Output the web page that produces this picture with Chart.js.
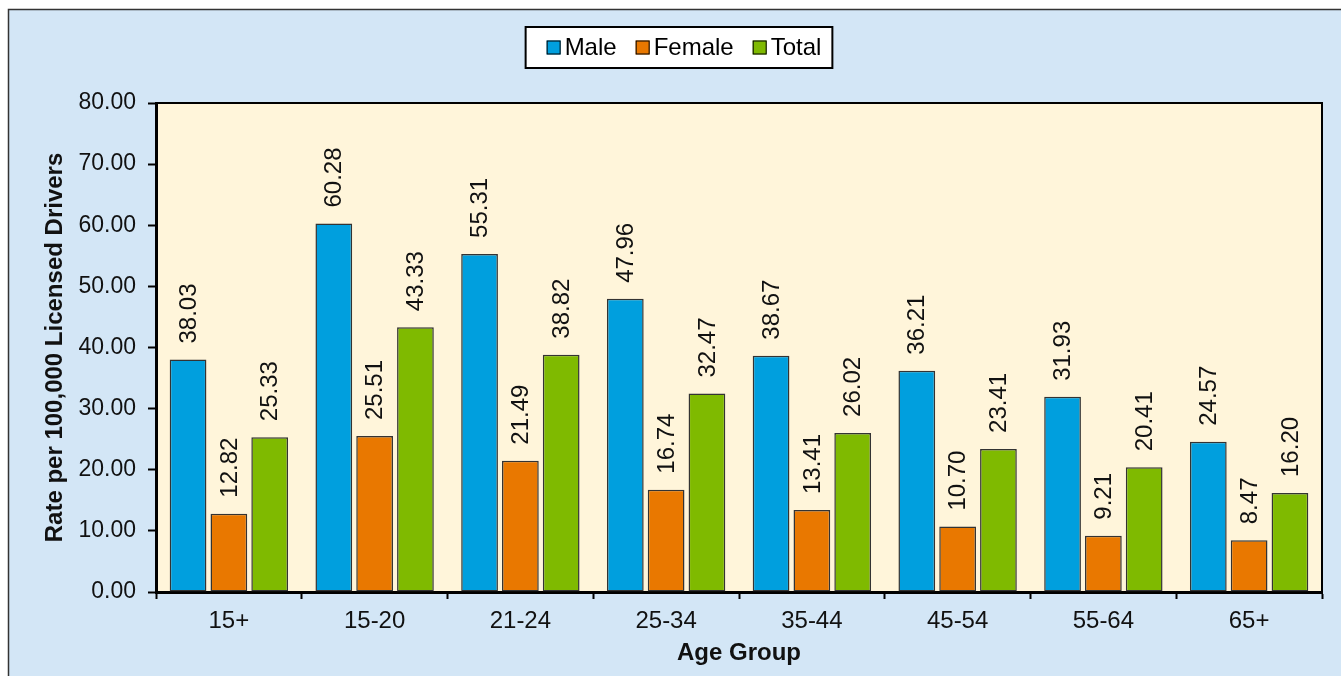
<!DOCTYPE html>
<html>
<head>
<meta charset="utf-8">
<script src="https://cdn.jsdelivr.net/npm/chart.js@4/dist/chart.umd.min.js"></script>
<style>
  html, body { margin: 0; padding: 0; background: #fff; }
  #wrap { width: 1341px; height: 676px; position: relative; }
</style>
</head>
<body>
<div id="wrap"><canvas id="myChart" width="1341" height="676"></canvas></div>
<script>
const ageGroups = ["15+", "15-20", "21-24", "25-34", "35-44", "45-54", "55-64", "65+"];
const male = [38.03, 60.28, 55.31, 47.96, 38.67, 36.21, 31.93, 24.57];
const female = [12.82, 25.51, 21.49, 16.74, 13.41, 10.70, 9.21, 8.47];
const total = [25.33, 43.33, 38.82, 32.47, 26.02, 23.41, 20.41, 16.20];

const FONT = "'Liberation Sans', Arial, sans-serif";

// panel background + plot area fill
const backdrop = {
  id: "backdrop",
  beforeDraw(chart) {
    const ctx = chart.ctx;
    const a = chart.chartArea;
    ctx.save();
    ctx.fillStyle = "#fff";
    ctx.fillRect(0, 0, chart.width, chart.height);
    ctx.fillStyle = "#D3E6F6";
    ctx.fillRect(8, 9, chart.width - 8, chart.height - 9);
    ctx.strokeStyle = "#333";
    ctx.lineWidth = 1.5;
    ctx.beginPath();
    ctx.moveTo(8.5, chart.height);
    ctx.lineTo(8.5, 9.5);
    ctx.lineTo(chart.width, 9.5);
    ctx.stroke();
    ctx.fillStyle = "#FFF5DA";
    ctx.fillRect(a.left, a.top, a.right - a.left, a.bottom - a.top);
    ctx.strokeStyle = "#000";
    ctx.lineWidth = 2;
    ctx.strokeRect(a.left, a.top, a.right - a.left, a.bottom - a.top);
    ctx.restore();
  },
  afterDraw(chart) {
    // legend box
    const ctx = chart.ctx;
    ctx.save();
    ctx.font = "24px " + FONT;
    const items = chart.data.datasets.map(d => ({ label: d.label, color: d.backgroundColor, w: 14 + 4 + ctx.measureText(d.label).width }));
    const gap = 19;
    const content = items.reduce((s, it) => s + it.w, 0) + gap * (items.length - 1);
    const boxW = content + 32;
    const boxL = 679 - boxW / 2;
    const boxT = 27, boxH = 41;
    ctx.fillStyle = "#fff";
    ctx.fillRect(boxL, boxT, boxW, boxH);
    ctx.strokeStyle = "#000";
    ctx.lineWidth = 2;
    ctx.strokeRect(boxL, boxT, boxW, boxH);
    let x = boxL + 21;
    const cy = boxT + boxH / 2;
    items.forEach(it => {
      ctx.fillStyle = it.color;
      ctx.fillRect(x, cy - 7, 14, 14);
      ctx.lineWidth = 1;
      ctx.strokeStyle = "#000";
      ctx.strokeRect(x + 0.5, cy - 6.5, 13, 13);
      ctx.fillStyle = "#000";
      ctx.textBaseline = "middle";
      ctx.textAlign = "left";
      ctx.fillText(it.label, x + 18, cy + 1);
      x += it.w + gap;
    });
    ctx.restore();
  }
};

// rotated value labels above the bars
const valueLabels = {
  id: "valueLabels",
  afterDatasetsDraw(chart) {
    const ctx = chart.ctx;
    ctx.save();
    ctx.font = "24px " + FONT;
    ctx.fillStyle = "#111";
    ctx.textAlign = "left";
    ctx.textBaseline = "middle";
    chart.data.datasets.forEach((ds, i) => {
      chart.getDatasetMeta(i).data.forEach((bar, j) => {
        ctx.save();
        ctx.translate(bar.x, bar.y - 16);
        ctx.rotate(-Math.PI / 2);
        ctx.fillText(ds.data[j].toFixed(2), 0, 1);
        ctx.restore();
      });
    });
    ctx.restore();
  }
};

const ctx = document.getElementById("myChart").getContext("2d");
const myChart = new Chart(ctx, {
  type: "bar",
  data: {
    labels: ageGroups,
    datasets: [
      { label: "Male", data: male, backgroundColor: "#009FDE" },
      { label: "Female", data: female, backgroundColor: "#E97800" },
      { label: "Total", data: total, backgroundColor: "#7FBA00" }
    ]
  },
  options: {
    responsive: false,
    animation: false,
    devicePixelRatio: 1,
    layout: { padding: { left: 0, right: 19, top: 103, bottom: 0 } },
    datasets: {
      bar: {
        categoryPercentage: 0.84,
        barPercentage: 0.9,
        borderColor: "#333",
        borderWidth: 1.5,
        borderSkipped: false
      }
    },
    plugins: {
      legend: { display: false },
      tooltip: { enabled: false }
    },
    scales: {
      x: {
        afterFit(scale) { scale.height = 84; },
        grid: { display: true, drawOnChartArea: false, offset: true, tickLength: 7, tickWidth: 2, tickColor: "#000" },
        border: { display: true, color: "#000", width: 3 },
        ticks: { font: { family: FONT, size: 24 }, color: "#111", padding: 8 },
        title: {
          display: true,
          text: "Age Group",
          font: { family: FONT, size: 24, weight: "bold" },
          color: "#111",
          padding: { top: 0, bottom: 8 }
        }
      },
      y: {
        min: 0,
        max: 80,
        afterFit(scale) { scale.width = 156; },
        grid: { display: true, drawOnChartArea: false, tickLength: 8, tickWidth: 2, tickColor: "#000" },
        border: { display: true, color: "#000", width: 3 },
        ticks: {
          stepSize: 10,
          font: { family: FONT, size: 23 },
          color: "#111",
          padding: 12,
          callback: v => v.toFixed(2)
        },
        title: {
          display: true,
          text: "Rate per 100,000 Licensed Drivers",
          font: { family: FONT, size: 24, weight: "bold" },
          color: "#111",
          padding: { top: 41, bottom: 0 }
        }
      }
    }
  },
  plugins: [backdrop, valueLabels]
});
</script>
</body>
</html>
